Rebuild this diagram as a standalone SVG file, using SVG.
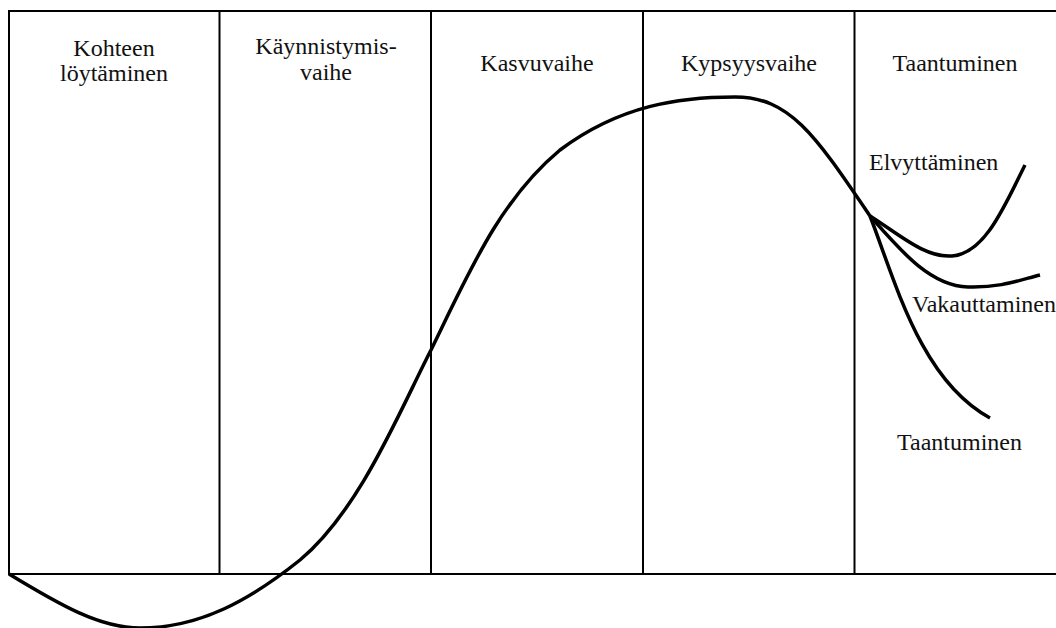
<svg xmlns="http://www.w3.org/2000/svg" width="1056" height="628" viewBox="0 0 1056 628">
<style>
.frame{fill:none;stroke:#000;stroke-width:2}
.curve{fill:none;stroke:#000;stroke-width:3.5;stroke-linecap:butt}
text{font-family:"Liberation Serif","Times New Roman",serif;font-size:24px;fill:#111}
.c{text-anchor:middle}
</style>
<rect width="1056" height="628" fill="#fff"/>
<g id="frame">
<path class="frame" d="M1056,11 H9 V574 H1056"/>
<line class="frame" x1="219.5" y1="11" x2="219.5" y2="574"/>
<line class="frame" x1="431" y1="11" x2="431" y2="574"/>
<line class="frame" x1="643" y1="11" x2="643" y2="574"/>
<line class="frame" x1="854.5" y1="11" x2="854.5" y2="574"/>
</g>
<g id="phase1"><text class="c" x="114" y="56">Kohteen</text><text class="c" x="114" y="81">löytäminen</text></g>
<g id="phase2"><text class="c" x="326" y="54">Käynnistymis-</text><text class="c" x="326" y="80">vaihe</text></g>
<g id="phase3"><text class="c" x="537" y="71">Kasvuvaihe</text></g>
<g id="phase4"><text class="c" x="749" y="71">Kypsyysvaihe</text></g>
<g id="phase5"><text class="c" x="955" y="71">Taantuminen</text></g>
<g id="connectors">
<path class="curve" d="M9,574 C60,605 100,628 140,628 C200,628 250,600 300,560 C360,510 400,410 431,350 C470,270 500,200 560,150 C620,105 680,97 735,97 C790,97 815,135 870,216"/>
<path class="curve" d="M870,216 C900,235 925,258 952,256 C985,254 1005,205 1025,165"/>
<path class="curve" d="M870,216 C900,250 930,286 968,287 C1000,288 1020,280 1040,275"/>
<path class="curve" d="M870,216 C895,280 920,380 990,418"/>
</g>
<g id="label-elvyttaminen"><text x="869" y="170">Elvyttäminen</text></g>
<g id="label-vakauttaminen"><text x="912" y="312">Vakauttaminen</text></g>
<g id="label-taantuminen"><text x="897" y="450">Taantuminen</text></g>
</svg>
